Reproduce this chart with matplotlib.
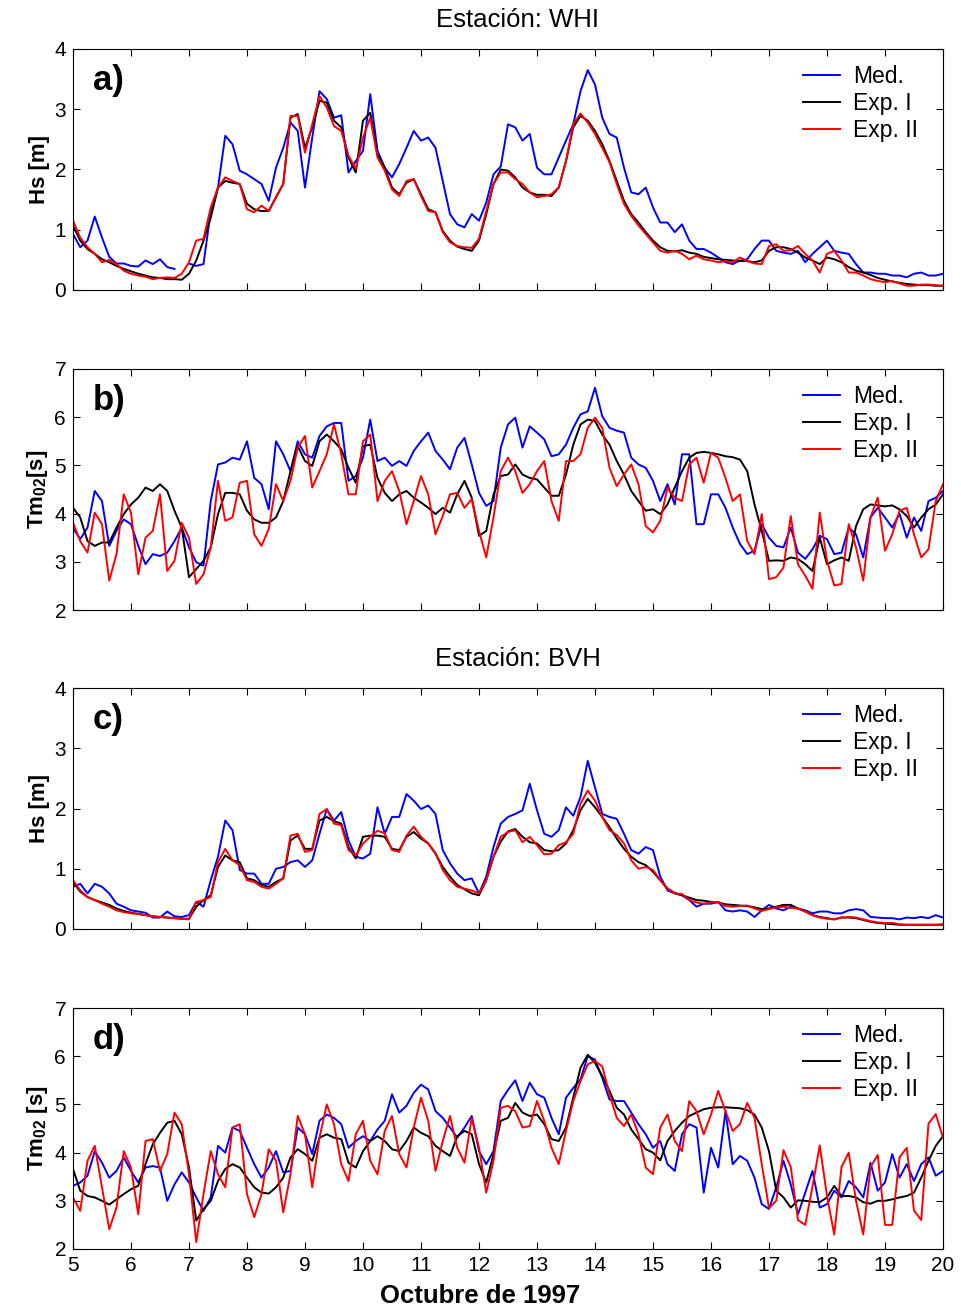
import numpy as np
import matplotlib
matplotlib.use("Agg")
from matplotlib import pyplot as plt

plt.rcParams["font.family"] = ["Liberation Sans", "DejaVu Sans"]
plt.rcParams["mathtext.fontset"] = "custom"
plt.rcParams["mathtext.bf"] = "Liberation Sans:bold"
plt.rcParams["mathtext.rm"] = "Liberation Sans:bold"

# time axis: days of October 1997, every 3 hours
t = np.arange(5, 20.001, 0.125)
nan = np.nan

# ---- Station WHI ----
hs_whi_med = [0.93, 0.71, 0.82, 1.22, 0.87, 0.55, 0.44, 0.44,
              0.40, 0.39, 0.49, 0.43, 0.51, 0.38, 0.35, nan,
              0.44, 0.40, 0.43, 1.31, 1.70, 2.56, 2.42, 1.98,
              1.92, 1.84, 1.76, 1.48, 2.03, 2.36, 2.78, 2.64,
              1.70, 2.53, 3.30, 3.17, 2.86, 2.90, 1.95, 2.14,
              2.31, 3.25, 2.31, 2.03, 1.87, 2.09, 2.36, 2.64,
              2.48, 2.53, 2.36, 1.81, 1.26, 1.09, 1.04, 1.26,
              1.15, 1.45, 1.92, 2.05, 2.75, 2.70, 2.48, 2.59,
              2.03, 1.92, 1.92, 2.20, 2.48, 2.75, 3.30, 3.65,
              3.41, 2.86, 2.59, 2.53, 2.03, 1.62, 1.59, 1.70,
              1.37, 1.12, 1.12, 0.96, 1.09, 0.82, 0.68, 0.68,
              0.62, 0.54, 0.46, 0.43, 0.49, 0.51, 0.68, 0.82,
              0.82, 0.65, 0.62, 0.60, 0.65, 0.46, 0.60, 0.71,
              0.82, 0.65, 0.62, 0.60, 0.43, 0.29, 0.29, 0.27,
              0.27, 0.24, 0.24, 0.21, 0.27, 0.29, 0.24, 0.24,
              0.27]
hs_whi_exp1 = [1.07, 0.82, 0.68, 0.60, 0.51, 0.46, 0.40, 0.35,
               0.31, 0.27, 0.24, 0.21, 0.20, 0.18, 0.18, 0.17,
               0.27, 0.49, 0.82, 1.20, 1.70, 1.81, 1.78, 1.76,
               1.43, 1.34, 1.31, 1.31, 1.54, 1.76, 2.86, 2.92,
               2.36, 2.70, 3.14, 3.11, 2.81, 2.70, 2.20, 1.95,
               2.81, 2.94, 2.25, 2.03, 1.70, 1.59, 1.78, 1.84,
               1.59, 1.34, 1.29, 0.98, 0.82, 0.72, 0.68, 0.65,
               0.82, 1.26, 1.76, 2.00, 1.98, 1.87, 1.70, 1.62,
               1.58, 1.58, 1.56, 1.70, 2.14, 2.70, 2.89, 2.81,
               2.64, 2.42, 2.14, 1.81, 1.48, 1.26, 1.12, 0.96,
               0.82, 0.71, 0.65, 0.64, 0.66, 0.62, 0.60, 0.55,
               0.53, 0.51, 0.50, 0.49, 0.48, 0.48, 0.46, 0.49,
               0.65, 0.71, 0.71, 0.68, 0.62, 0.54, 0.49, 0.43,
               0.54, 0.51, 0.46, 0.38, 0.32, 0.29, 0.25, 0.20,
               0.17, 0.14, 0.12, 0.10, 0.09, 0.08, 0.08, 0.07,
               0.07]
hs_whi_exp2 = [1.15, 0.87, 0.71, 0.60, 0.46, 0.50, 0.43, 0.32,
               0.27, 0.24, 0.22, 0.18, 0.20, 0.21, 0.20, 0.27,
               0.46, 0.82, 0.85, 1.37, 1.70, 1.87, 1.81, 1.76,
               1.34, 1.29, 1.40, 1.31, 1.54, 1.76, 2.89, 2.89,
               2.28, 2.75, 3.22, 3.03, 2.72, 2.64, 2.23, 2.01,
               2.53, 2.86, 2.20, 1.98, 1.67, 1.56, 1.81, 1.84,
               1.56, 1.31, 1.29, 0.96, 0.79, 0.73, 0.71, 0.70,
               0.85, 1.31, 1.76, 1.95, 1.95, 1.84, 1.76, 1.62,
               1.54, 1.56, 1.59, 1.70, 2.14, 2.75, 2.93, 2.78,
               2.59, 2.36, 2.12, 1.76, 1.43, 1.23, 1.07, 0.93,
               0.79, 0.65, 0.62, 0.65, 0.60, 0.51, 0.57, 0.51,
               0.49, 0.46, 0.48, 0.46, 0.54, 0.48, 0.44, 0.43,
               0.73, 0.76, 0.65, 0.66, 0.73, 0.60, 0.49, 0.29,
               0.60, 0.65, 0.49, 0.29, 0.29, 0.24, 0.18, 0.15,
               0.13, 0.15, 0.11, 0.07, 0.07, 0.09, 0.09, 0.08,
               0.07]

tm_whi_med = [3.70, 3.47, 3.71, 4.47, 4.26, 3.33, 3.64, 3.88,
              3.78, 3.33, 2.95, 3.16, 3.12, 3.19, 3.43, 3.71,
              3.30, 2.99, 2.92, 4.26, 5.02, 5.06, 5.16, 5.12,
              5.50, 4.74, 4.61, 4.09, 5.50, 5.23, 4.88, 5.50,
              5.23, 5.16, 5.61, 5.81, 5.88, 5.88, 4.68, 4.78,
              5.16, 5.95, 5.09, 5.16, 4.99, 5.09, 4.99, 5.30,
              5.50, 5.68, 5.30, 5.12, 4.92, 5.37, 5.57, 5.02,
              4.43, 4.16, 4.26, 5.37, 5.85, 5.99, 5.37, 5.81,
              5.68, 5.54, 5.19, 5.23, 5.43, 5.78, 6.06, 6.12,
              6.61, 6.02, 5.78, 5.72, 5.68, 5.16, 5.02, 4.95,
              4.68, 4.26, 4.61, 4.19, 5.23, 5.23, 3.78, 3.78,
              4.40, 4.40, 4.12, 3.71, 3.37, 3.16, 3.23, 3.78,
              3.50, 3.33, 3.30, 3.71, 3.19, 3.06, 3.26, 3.54,
              3.47, 3.16, 3.19, 3.71, 3.57, 3.09, 3.92, 4.12,
              3.92, 3.71, 4.00, 3.50, 3.92, 3.64, 4.26, 4.33,
              4.47]
tm_whi_exp1 = [4.12, 3.92, 3.43, 3.33, 3.40, 3.40, 3.71, 3.99,
               4.19, 4.33, 4.54, 4.47, 4.61, 4.47, 4.06, 3.71,
               2.68, 2.85, 3.02, 3.30, 3.99, 4.43, 4.43, 4.40,
               4.06, 3.88, 3.81, 3.81, 3.92, 4.26, 4.88, 5.40,
               5.09, 4.99, 5.50, 5.64, 5.50, 5.33, 4.95, 4.64,
               5.40, 5.43, 4.74, 4.43, 4.26, 4.40, 4.47, 4.33,
               4.23, 4.12, 3.99, 4.12, 4.02, 4.40, 4.68, 4.33,
               3.54, 3.64, 4.40, 4.78, 4.81, 5.02, 4.81, 4.74,
               4.71, 4.54, 4.37, 4.37, 4.81, 5.43, 5.85, 5.95,
               5.92, 5.64, 5.43, 5.09, 4.81, 4.47, 4.26, 4.06,
               4.09, 3.99, 4.19, 4.54, 4.88, 5.16, 5.26, 5.28,
               5.26, 5.23, 5.19, 5.17, 5.12, 4.88, 4.19, 3.64,
               3.02, 3.03, 3.02, 3.09, 3.06, 2.95, 2.81, 3.50,
               2.95, 3.03, 3.09, 3.02, 3.74, 4.09, 4.19, 4.17,
               4.15, 4.17, 4.09, 3.95, 3.71, 3.92, 4.09, 4.19,
               4.40]
tm_whi_exp2 = [3.81, 3.43, 3.19, 4.02, 3.78, 2.61, 3.16, 4.40,
               4.02, 2.74, 3.50, 3.64, 4.40, 2.81, 3.02, 3.81,
               3.50, 2.54, 2.74, 3.30, 4.68, 3.85, 3.92, 4.64,
               4.68, 3.57, 3.33, 3.68, 4.61, 4.26, 4.68, 5.37,
               5.61, 4.54, 4.88, 5.23, 5.85, 5.23, 4.40, 4.40,
               5.50, 5.64, 4.26, 4.68, 4.88, 4.47, 3.78, 4.26,
               4.78, 4.40, 3.57, 3.95, 4.40, 4.43, 4.12, 4.30,
               3.64, 3.09, 3.92, 4.88, 5.16, 4.88, 4.43, 4.61,
               4.88, 5.09, 4.26, 3.85, 5.09, 5.09, 5.23, 5.78,
               5.99, 5.78, 4.95, 4.57, 4.81, 5.02, 4.61, 3.74,
               3.61, 3.85, 4.54, 4.33, 4.26, 5.02, 5.16, 4.64,
               5.26, 5.16, 4.74, 4.26, 4.40, 3.43, 3.16, 3.99,
               2.64, 2.68, 2.88, 3.95, 2.95, 2.71, 2.44, 4.02,
               3.02, 2.51, 2.54, 3.78, 3.30, 2.61, 3.92, 4.33,
               3.23, 3.57, 4.06, 4.12, 3.57, 3.09, 3.26, 4.26,
               4.61]

# ---- Station BVH ----
hs_bvh_med = [0.70, 0.75, 0.59, 0.75, 0.70, 0.59, 0.42, 0.37,
              0.31, 0.29, 0.27, 0.19, 0.19, 0.29, 0.21, 0.20,
              0.23, 0.45, 0.37, 0.81, 1.20, 1.80, 1.64, 0.98,
              0.92, 0.92, 0.75, 0.75, 1.00, 1.03, 1.11, 1.14,
              1.03, 1.14, 1.58, 1.99, 1.80, 1.94, 1.47, 1.20,
              1.17, 1.25, 2.02, 1.58, 1.86, 1.86, 2.24, 2.13,
              1.99, 2.05, 1.91, 1.31, 1.09, 0.92, 0.81, 0.84,
              0.59, 0.87, 1.36, 1.75, 1.86, 1.91, 1.97, 2.41,
              1.97, 1.58, 1.53, 1.64, 2.02, 1.88, 2.19, 2.79,
              2.35, 1.91, 1.86, 1.83, 1.58, 1.31, 1.25, 1.36,
              1.31, 0.87, 0.64, 0.59, 0.56, 0.48, 0.37, 0.42,
              0.42, 0.45, 0.31, 0.29, 0.31, 0.29, 0.20, 0.31,
              0.40, 0.34, 0.31, 0.37, 0.34, 0.31, 0.26, 0.29,
              0.29, 0.26, 0.26, 0.31, 0.33, 0.31, 0.20, 0.19,
              0.18, 0.18, 0.16, 0.19, 0.18, 0.20, 0.18, 0.23,
              0.19]
hs_bvh_exp1 = [0.78, 0.62, 0.53, 0.48, 0.44, 0.40, 0.34, 0.30,
               0.27, 0.25, 0.23, 0.21, 0.20, 0.19, 0.18, 0.17,
               0.17, 0.37, 0.48, 0.56, 1.03, 1.22, 1.14, 1.11,
               0.84, 0.81, 0.73, 0.70, 0.78, 0.84, 1.47, 1.55,
               1.33, 1.33, 1.80, 1.86, 1.79, 1.75, 1.36, 1.17,
               1.53, 1.55, 1.55, 1.53, 1.33, 1.31, 1.53, 1.61,
               1.50, 1.42, 1.25, 1.03, 0.87, 0.73, 0.66, 0.59,
               0.56, 0.81, 1.20, 1.45, 1.62, 1.66, 1.53, 1.44,
               1.42, 1.31, 1.29, 1.31, 1.42, 1.64, 1.97, 2.16,
               2.02, 1.86, 1.69, 1.50, 1.33, 1.20, 1.11, 1.06,
               0.95, 0.81, 0.67, 0.60, 0.56, 0.52, 0.48, 0.47,
               0.45, 0.44, 0.41, 0.40, 0.39, 0.38, 0.36, 0.33,
               0.34, 0.37, 0.40, 0.40, 0.34, 0.29, 0.23, 0.20,
               0.18, 0.16, 0.19, 0.19, 0.18, 0.15, 0.12, 0.10,
               0.09, 0.08, 0.07, 0.07, 0.07, 0.07, 0.07, 0.07,
               0.07]
hs_bvh_exp2 = [0.81, 0.64, 0.53, 0.48, 0.42, 0.37, 0.31, 0.28,
               0.26, 0.25, 0.23, 0.21, 0.20, 0.19, 0.18, 0.17,
               0.16, 0.45, 0.48, 0.53, 1.11, 1.33, 1.14, 1.06,
               0.81, 0.78, 0.70, 0.67, 0.75, 0.84, 1.55, 1.58,
               1.28, 1.31, 1.91, 1.99, 1.75, 1.72, 1.31, 1.22,
               1.42, 1.53, 1.63, 1.59, 1.31, 1.28, 1.55, 1.70,
               1.53, 1.42, 1.26, 0.98, 0.81, 0.70, 0.67, 0.64,
               0.59, 0.81, 1.20, 1.53, 1.61, 1.64, 1.44, 1.53,
               1.39, 1.24, 1.25, 1.39, 1.44, 1.58, 2.08, 2.30,
               2.13, 1.86, 1.64, 1.56, 1.42, 1.14, 1.00, 1.03,
               0.98, 0.81, 0.67, 0.59, 0.58, 0.48, 0.44, 0.42,
               0.44, 0.45, 0.38, 0.37, 0.38, 0.39, 0.34, 0.30,
               0.33, 0.36, 0.37, 0.35, 0.34, 0.29, 0.23, 0.19,
               0.17, 0.16, 0.19, 0.20, 0.19, 0.16, 0.13, 0.11,
               0.10, 0.10, 0.08, 0.07, 0.07, 0.07, 0.07, 0.07,
               0.08]

tm_bvh_med = [3.31, 3.38, 3.52, 4.03, 3.79, 3.48, 3.62, 3.90,
              3.62, 3.38, 3.69, 3.72, 3.69, 3.00, 3.34, 3.59,
              3.38, 3.07, 2.79, 3.07, 4.14, 4.00, 4.52, 4.45,
              4.10, 3.76, 3.48, 3.69, 4.03, 3.59, 3.62, 4.52,
              4.38, 3.97, 4.66, 4.79, 4.72, 4.59, 4.10, 4.24,
              4.34, 4.24, 4.48, 4.66, 5.21, 4.83, 4.97, 5.24,
              5.41, 5.31, 4.86, 4.72, 4.52, 4.31, 4.52, 4.76,
              4.03, 3.76, 4.03, 5.07, 5.30, 5.50, 5.07, 5.45,
              5.21, 5.14, 4.72, 4.38, 5.14, 5.34, 5.52, 6.00,
              5.93, 5.55, 5.10, 5.07, 5.07, 4.83, 4.59, 4.38,
              4.10, 4.24, 3.76, 3.62, 4.38, 4.59, 4.52, 3.17,
              4.10, 3.69, 4.86, 3.76, 3.93, 3.83, 3.48, 2.93,
              2.83, 3.28, 3.83, 3.34, 2.72, 3.17, 3.62, 2.86,
              2.93, 3.21, 3.07, 3.41, 3.28, 3.07, 3.79, 3.21,
              3.38, 3.97, 3.48, 3.76, 3.41, 3.76, 3.90, 3.52,
              3.62]
tm_bvh_exp1 = [3.66, 3.21, 3.10, 3.07, 3.00, 2.92, 3.03, 3.14,
               3.24, 3.31, 3.76, 4.17, 4.41, 4.62, 4.66, 4.38,
               3.69, 2.59, 2.83, 3.00, 3.41, 3.66, 3.76, 3.69,
               3.48, 3.28, 3.17, 3.15, 3.28, 3.48, 3.90, 4.07,
               3.97, 3.83, 4.31, 4.38, 4.31, 4.28, 3.79, 3.69,
               4.03, 4.24, 4.34, 4.24, 4.07, 4.03, 4.24, 4.52,
               4.41, 4.34, 4.14, 4.03, 3.93, 4.34, 4.45, 4.38,
               3.76, 3.38, 3.97, 4.66, 4.72, 5.03, 4.83, 4.76,
               4.79, 4.59, 4.28, 4.24, 4.52, 5.14, 5.76, 6.03,
               5.86, 5.59, 5.28, 4.93, 4.79, 4.48, 4.28, 4.07,
               4.00, 3.84, 4.24, 4.45, 4.62, 4.76, 4.83, 4.90,
               4.93, 4.94, 4.94, 4.93, 4.92, 4.88, 4.79, 4.52,
               4.03, 3.21, 3.07, 2.86, 3.01, 3.00, 2.98, 2.97,
               3.07, 3.31, 3.10, 3.10, 3.07, 2.97, 2.94, 3.00,
               3.00, 3.03, 3.07, 3.10, 3.17, 3.48, 3.83, 4.14,
               4.34]
tm_bvh_exp2 = [3.07, 2.79, 3.83, 4.14, 3.28, 2.41, 2.86, 4.03,
               3.69, 2.72, 4.24, 4.28, 3.62, 3.97, 4.83, 4.59,
               3.55, 2.14, 3.14, 4.03, 3.55, 3.28, 4.52, 4.59,
               3.14, 2.66, 3.14, 4.07, 3.83, 2.76, 3.55, 4.76,
               4.38, 3.28, 4.31, 5.00, 4.59, 3.76, 3.41, 4.38,
               4.66, 3.83, 3.55, 4.45, 4.76, 3.97, 3.69, 4.52,
               5.14, 4.66, 3.62, 4.24, 4.76, 4.10, 3.79, 4.72,
               4.10, 3.17, 3.83, 4.93, 4.97, 4.86, 4.52, 4.55,
               5.07, 4.66, 4.10, 3.76, 4.45, 5.07, 5.48, 5.83,
               5.90, 5.79, 5.21, 4.72, 4.55, 4.79, 4.38, 3.69,
               3.55, 4.52, 4.79, 4.24, 4.03, 5.07, 4.86, 4.38,
               4.79, 5.28, 4.86, 4.45, 4.59, 5.03, 4.72, 3.76,
               2.85, 3.00, 4.05, 3.70, 2.60, 2.50, 3.30, 4.15,
               3.10, 2.30, 3.70, 4.00, 3.00, 2.30, 3.70, 3.95,
               2.50, 2.50, 3.90, 4.10, 2.80, 2.60, 4.60, 4.80,
               4.31]

panels = [
    ("a)", hs_whi_med, hs_whi_exp1, hs_whi_exp2, (0, 4), "Hs [m]"),
    ("b)", tm_whi_med, tm_whi_exp1, tm_whi_exp2, (2, 7), r"Tm$_{\mathbf{02}}$[s]"),
    ("c)", hs_bvh_med, hs_bvh_exp1, hs_bvh_exp2, (0, 4), "Hs [m]"),
    ("d)", tm_bvh_med, tm_bvh_exp1, tm_bvh_exp2, (2, 7), r"Tm$_{\mathbf{02}}$ [s]"),
]
stations = ["Estación: WHI", "Estación: BVH"]

W, H = 961, 1311
fig = plt.figure(figsize=(W / 100, H / 100), dpi=100)
bottoms = [290, 610, 929, 1249]
left, right, axh = 73, 943, 241

for i, (lab, med, e1, e2, ylim, ylab) in enumerate(panels):
    ax = fig.add_axes([left / W, 1 - bottoms[i] / H, (right - left) / W, axh / H])
    ax.plot(t, med, color="blue", lw=1.4, label="Med.")
    ax.plot(t, e1, color="black", lw=1.4, label="Exp. I")
    ax.plot(t, e2, color="red", lw=1.4, label="Exp. II")
    ax.set_xlim(5, 20)
    ax.set_ylim(*ylim)
    ax.set_xticks(range(5, 21))
    ax.set_yticks(range(ylim[0], ylim[1] + 1))
    ax.tick_params(direction="in", top=True, right=True, length=5, width=0.8,
                   labelsize=15, pad=5)
    if i < 3:
        ax.set_xticklabels([])
    else:
        ax.set_xlabel("Octubre de 1997", fontsize=18.5, fontweight="bold")
        ax.xaxis.set_label_coords(0.468, -0.145)
    ax.set_ylabel(ylab, fontsize=16, fontweight="bold", labelpad=3)
    ax.text(0.023, 0.87, lab, transform=ax.transAxes, fontsize=25,
            fontweight="bold", ha="left", va="center")
    ax.legend(loc="upper left", bbox_to_anchor=(0.8395, 0.933), frameon=False,
              fontsize=16.5, handlelength=1.6, handletextpad=0.55,
              labelspacing=0.18, borderaxespad=0, borderpad=0)
    if i % 2 == 0:
        fig.text(518 / W, 1 - (bottoms[i] - axh - 29) / H, stations[i // 2],
                 fontsize=18.5, ha="center", va="center")

fig.savefig("out.png", dpi=100)
